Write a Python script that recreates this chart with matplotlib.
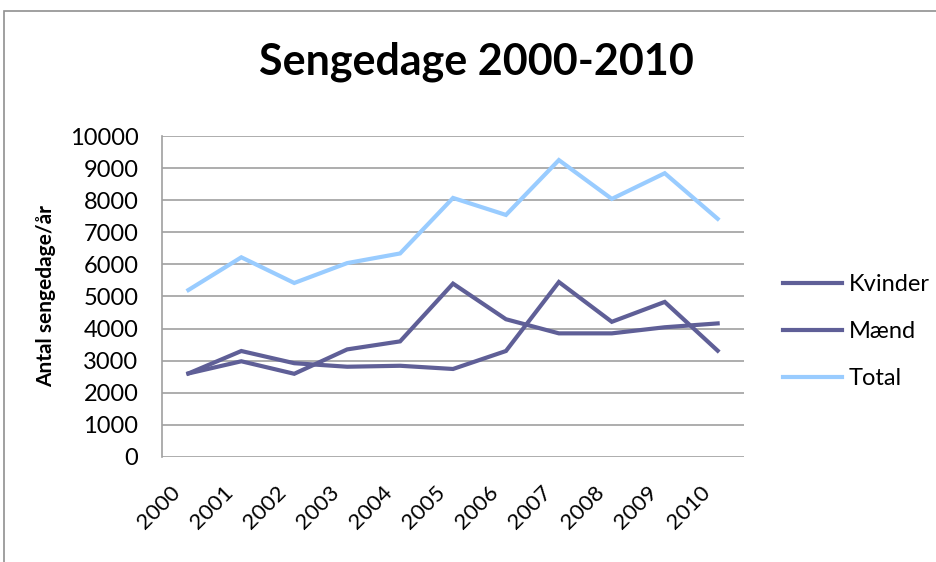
import matplotlib
matplotlib.use('Agg')
import matplotlib.pyplot as plt
from matplotlib.patches import Rectangle
from matplotlib.transforms import ScaledTranslation

years = ['2000', '2001', '2002', '2003', '2004', '2005', '2006', '2007', '2008', '2009', '2010']
kvinder = [2600, 2980, 2590, 3350, 3600, 5400, 4290, 3850, 3850, 4040, 4160]
maend = [2600, 3300, 2920, 2810, 2840, 2740, 3300, 5450, 4210, 4830, 3310]
total = [5200, 6220, 5420, 6040, 6340, 8070, 7540, 9250, 8040, 8840, 7420]

dark = '#5f5f97'
light = '#99ccff'

plt.rcParams['font.family'] = ['Lato', 'DejaVu Sans']

fig = plt.figure(figsize=(9.36, 5.62), dpi=100)
ax = fig.add_axes([0.173, 0.187, 0.622, 0.571])

x = range(len(years))
ax.plot(x, kvinder, color=dark, lw=3, label='Kvinder', solid_joinstyle='miter')
ax.plot(x, maend, color=dark, lw=3, label='Mænd', solid_joinstyle='miter')
ax.plot(x, total, color=light, lw=3, label='Total', solid_joinstyle='miter')

ax.set_xlim(-0.5, len(years) - 0.5)
ax.set_ylim(0, 10000)
ax.set_yticks(range(0, 10001, 1000))
ax.set_xticks(list(x))
ax.set_xticklabels(years, rotation=45, ha='right', va='top', rotation_mode='anchor', fontsize=16)
ax.tick_params(axis='y', labelsize=17, length=0, pad=17)
ax.tick_params(axis='x', length=0, pad=18)
shift = ScaledTranslation(-0.18, 0, fig.dpi_scale_trans)
for lbl in ax.get_xticklabels():
    lbl.set_transform(lbl.get_transform() + shift)
ax.yaxis.grid(True, color='#a0a0a0', lw=1.2)
ax.set_axisbelow(True)
for s in ['top', 'right', 'bottom']:
    ax.spines[s].set_visible(False)
ax.spines['left'].set_color('#a0a0a0')
ax.spines['left'].set_linewidth(1.2)

ax.set_ylabel('Antal sengedage/år', fontsize=15, fontweight='bold', labelpad=10)
fig.text(0.509, 0.89, 'Sengedage 2000-2010', ha='center', va='center',
         fontsize=31, fontweight='bold')

ax.legend(loc='center left', bbox_to_anchor=(1.03, 0.39), frameon=False,
          fontsize=17, handlelength=2.5, labelspacing=1.1, handletextpad=0.3)

fig.patches.append(Rectangle((4 / 936, -0.01), 1.0, 1 - 11 / 562 + 0.01,
                             transform=fig.transFigure, fill=False,
                             edgecolor='#909090', lw=1.2))

fig.savefig('out.png', dpi=100)
